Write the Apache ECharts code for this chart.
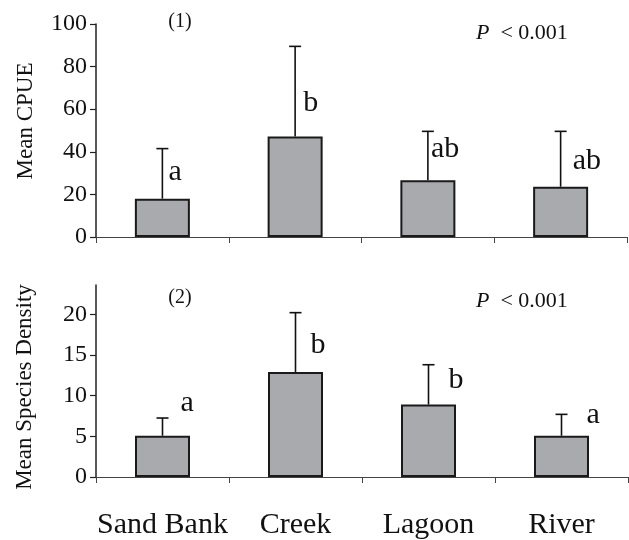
<!DOCTYPE html>
<html><head><meta charset="utf-8">
<script src="https://cdn.jsdelivr.net/npm/echarts@6/dist/echarts.min.js"></script>
<style>html,body{margin:0;padding:0;background:#fff}#c{width:629px;height:540px}</style>
</head><body><div id="c"></div>
<script>
const categories = ['Sand Bank', 'Creek', 'Lagoon', 'River'];
const cpueMean = [18.0, 47.2, 26.6, 23.6];
const cpueUpper = [41.5, 89.5, 49.6, 49.6];
const cpueLetters = ['a', 'b', 'ab', 'ab'];
const densMean = [5.07, 12.9, 8.9, 5.07];
const densUpper = [7.25, 20.2, 13.8, 7.7];
const densLetters = ['a', 'b', 'b', 'a'];
const cpueTicks = [0, 20, 40, 60, 80, 100];
const densTicks = [0, 5, 10, 15, 20];
// where each significance letter sits (value units on its panel's y axis)
const cpueLetterY = [30.3, 62.7, 41.3, 35.8];
const densLetterY = [9.08, 16.16, 11.9, 7.65];

// layout / style (not data)
const cpueLetterDx = [6, 8, 3, 12];
const densLetterDx = [18, 15, 20, 25];
const FAMILY = '"Liberation Serif", "Times New Roman", serif';
const INK = '#111';

const chart = echarts.init(document.getElementById('c'), null, {renderer: 'canvas'});

function errorSeries(gi, mean, upper) {
  return {
    type: 'custom', xAxisIndex: gi, yAxisIndex: gi, z: 5,
    data: categories.map((c, i) => [i, mean[i], upper[i]]),
    renderItem: function (params, api) {
      const p0 = api.coord([api.value(0), api.value(1)]);
      const p1 = api.coord([api.value(0), api.value(2)]);
      const st = {stroke: INK, lineWidth: 1.6};
      return {type: 'group', children: [
        {type: 'line', shape: {x1: p0[0], y1: p0[1], x2: p1[0], y2: p1[1]}, style: st},
        {type: 'line', shape: {x1: p1[0] - 6, y1: p1[1], x2: p1[0] + 6, y2: p1[1]}, style: st}
      ]};
    }
  };
}
function letterSeries(gi, letters, ys, dxs) {
  return {
    type: 'custom', xAxisIndex: gi, yAxisIndex: gi, z: 6,
    data: categories.map((c, i) => [i, ys[i]]),
    renderItem: function (params, api) {
      const i = params.dataIndex;
      const p = api.coord([api.value(0), api.value(1)]);
      return {type: 'text', x: p[0] + dxs[i], y: p[1],
        style: {text: letters[i], fill: INK, fontSize: 30, fontFamily: FAMILY, align: 'left', verticalAlign: 'middle'}};
    }
  };
}
function barSeries(gi, mean) {
  return {
    type: 'bar', xAxisIndex: gi, yAxisIndex: gi, data: mean, barWidth: 55, z: 3,
    itemStyle: {color: '#a9aaad', borderColor: '#1a1a1a', borderWidth: 2},
    emphasis: {disabled: true}
  };
}
const yLabel = {fontSize: 24, fontFamily: FAMILY, color: INK, margin: 9};
const xCommon = {
  type: 'category', data: categories, boundaryGap: true,
  axisLine: {lineStyle: {color: '#444', width: 1}},
  axisTick: {show: true, length: 6, lineStyle: {color: '#444', width: 1}}
};
function txt(x, y, text, size, rot) {
  return {type: 'text', x: x, y: y, rotation: rot || 0,
    style: {text: text, fontSize: size, fontFamily: FAMILY, fill: INK, align: 'center', verticalAlign: 'middle'}};
}
function pText(x, y) {
  return {type: 'text', x: x, y: y,
    style: {text: '{i|P}  < 0.001', fontSize: 22, fontFamily: FAMILY, fill: INK, align: 'left', verticalAlign: 'middle',
      rich: {i: {fontStyle: 'italic', fontSize: 22, fontFamily: FAMILY, fill: INK}}}};
}

chart.setOption({
  animation: false,
  backgroundColor: '#fff',
  grid: [
    {left: 96, right: 2, top: 24, height: 213},
    {left: 96, right: 1, top: 285, height: 194}
  ],
  xAxis: [
    Object.assign({gridIndex: 0, axisLabel: {show: false}}, xCommon),
    Object.assign({gridIndex: 1, axisLabel: {interval: 0, fontSize: 30, fontFamily: FAMILY, color: INK, margin: 33}}, xCommon)
  ],
  yAxis: [
    {type: 'value', gridIndex: 0, min: 0, max: 100, interval: 20,
     axisLine: {show: true, lineStyle: {color: '#222', width: 1.5}},
     axisTick: {show: true, length: 6, lineStyle: {color: '#222', width: 1.2}, customValues: cpueTicks},
     axisLabel: Object.assign({customValues: cpueTicks}, yLabel),
     splitLine: {show: false}},
    {type: 'value', gridIndex: 1, min: 0, max: 23.6, interval: 5,
     axisLine: {show: true, lineStyle: {color: '#222', width: 1.5}},
     axisTick: {show: true, length: 6, lineStyle: {color: '#222', width: 1.2}, customValues: densTicks},
     axisLabel: Object.assign({customValues: densTicks}, yLabel),
     splitLine: {show: false}}
  ],
  graphic: [
    txt(26, 121, 'Mean CPUE', 23, Math.PI / 2),
    txt(25, 387, 'Mean Species Density', 23, Math.PI / 2),
    txt(180, 22, '(1)', 20),
    txt(180, 298, '(2)', 20),
    pText(476, 33),
    pText(476, 301)
  ],
  series: [
    barSeries(0, cpueMean), errorSeries(0, cpueMean, cpueUpper), letterSeries(0, cpueLetters, cpueLetterY, cpueLetterDx),
    barSeries(1, densMean), errorSeries(1, densMean, densUpper), letterSeries(1, densLetters, densLetterY, densLetterDx)
  ]
});
</script></body></html>
